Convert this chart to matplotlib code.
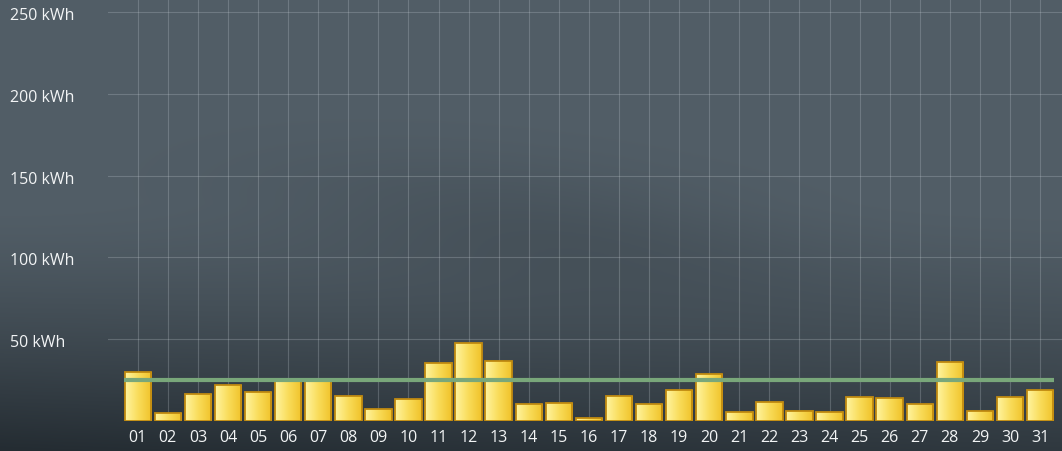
import numpy as np
import matplotlib
matplotlib.use("Agg")
from matplotlib import pyplot as plt
from matplotlib.colors import LinearSegmentedColormap

# daily energy values (kWh)
days = ["%02d" % d for d in range(1, 32)]
values = [30.0, 4.9, 16.5, 21.7, 17.6, 24.5, 24.1, 14.9, 7.3, 13.5,
          35.5, 47.6, 36.7, 10.4, 10.8, 1.7, 15.1, 10.0, 19.0, 28.6,
          5.1, 11.5, 5.9, 5.3, 14.3, 13.9, 10.4, 36.1, 5.9, 14.3, 18.8]
avg_line = 25.1
y_ticks = [50, 100, 150, 200, 250]
y_labels = ["%d kWh" % v for v in y_ticks]

plt.rcParams['font.family'] = ['Open Sans', 'DejaVu Sans']

W, H = 1062, 452
fig = plt.figure(figsize=(W / 100, H / 100), dpi=100)

# background gradient over the whole figure
bg = fig.add_axes([0, 0, 1, 1])
bg.set_axis_off()
yy, xx = np.mgrid[0:1:200j, 0:1:400j]
base = np.array([0x52, 0x5e, 0x67]) / 255.0
dark = np.array([0x24, 0x2c, 0x32]) / 255.0
# darker towards the bottom, more so on the left
t = np.clip((yy - 0.45) / 0.55, 0, 1) ** 1.4
t = t * (0.75 + 0.25 * (1 - xx))
# soft darker patch in the middle
band = 0.2 * np.exp(-((yy - 0.5 - 0.25 * (xx - 0.5)) ** 2) / 0.02) * np.exp(-((xx - 0.5) ** 2) / 0.06)
t = np.clip(t + band, 0, 1)
img = base[None, None, :] * (1 - t[..., None]) + dark[None, None, :] * t[..., None]
bg.imshow(img, extent=[0, 1, 0, 1], aspect='auto', origin='upper')
bg.set_xlim(0, 1)
bg.set_ylim(0, 1)

ax = fig.add_axes([108 / W, 30.3 / H, 1 - 108 / W, 421.7 / H])
ax.patch.set_alpha(0)
ax.set_xlim(0.01, 31.73)
ax.set_ylim(0, 258.2)
for s in ax.spines.values():
    s.set_visible(False)

x = np.arange(1, len(days) + 1)
for v in y_ticks:
    ax.axhline(v, color='#c8d0d6', lw=0.8, alpha=0.25, zorder=1)
for xi in x:
    ax.axvline(xi, color='#c8d0d6', lw=0.8, alpha=0.25, zorder=1)

bars = ax.bar(x, values, width=0.88, color='#f7d64a', edgecolor='#c08a10',
              linewidth=1.3, zorder=3)

# yellow gradient inside each bar
cmap = LinearSegmentedColormap.from_list('yel', ['#fff4a0', '#f9dc5a', '#f0c22a'])
grad = np.linspace(0, 1, 64).reshape(1, -1)
for b in bars:
    x0, w, h = b.get_x(), b.get_width(), b.get_height()
    im = ax.imshow(grad, cmap=cmap, extent=[x0, x0 + w, 0, h], aspect='auto', zorder=3.5)
    im.set_clip_path(b)
    b.set_facecolor('none')
    b.set_zorder(4)

ax.hlines(avg_line, 0.55, 31.45, color='#79a77a', lw=3, zorder=5)

ax.set_xticks(x)
ax.set_xticklabels(days, color='#f2f4f5', fontsize=11.5)
ax.tick_params(axis='x', length=0, pad=6)
ax.set_yticks([])

for v, lab in zip(y_ticks, y_labels):
    fig.text(10 / W, (30.3 + v * 421.7 / 258.2 - 3) / H, lab, color='#f2f4f5',
             fontsize=11.5, ha='left', va='center')

fig.savefig("out.png", dpi=100)
